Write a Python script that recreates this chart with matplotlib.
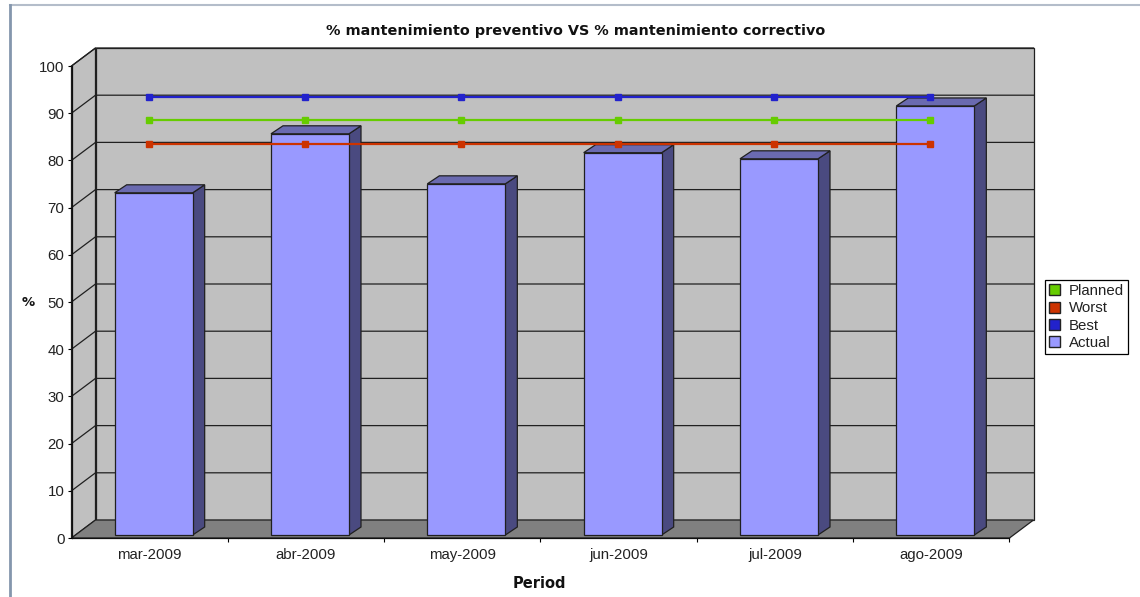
import matplotlib
matplotlib.use("Agg")
import matplotlib.pyplot as plt
from matplotlib.patches import Patch, Polygon

plt.rcParams["font.family"] = ["Liberation Sans", "DejaVu Sans"]

periods = ["mar-2009", "abr-2009", "may-2009", "jun-2009", "jul-2009", "ago-2009"]
actual = [72.5, 85.0, 74.4, 81.0, 79.7, 90.9]
planned = [85, 85, 85, 85, 85, 85]
worst = [80, 80, 80, 80, 80, 80]
best = [90, 90, 90, 90, 90, 90]
y_ticks = list(range(0, 101, 10))

WALL = "#c0c0c0"
FLOOR = "#808080"
GRID = "#202020"
BAR_FRONT = "#9999ff"
BAR_TOP = "#6a6ab0"
BAR_SIDE = "#4a4a80"
GREEN = "#66cc00"
RED = "#cc3300"
BLUE = "#2222cc"

W, H = 1140, 597
fig = plt.figure(figsize=(W / 100, H / 100), dpi=100)
ax = fig.add_axes([71.5 / W, (H - 538) / H, 938 / W, 472 / H])
ax.set_xlim(-0.5, 5.5)
ax.set_ylim(0, 100)

# pixel lengths expressed in data units, for the fake 3D depth
px = 6 / 938
py = 100 / 472
dx, dy = 24 * px, 18 * py
x0, x1 = -0.5, 5.5


def face(points, color, z, edge=GRID, lw=0.9):
    ax.add_patch(Polygon(points, closed=True, facecolor=color, edgecolor=edge,
                         linewidth=lw, clip_on=False, zorder=z))


# walls and floor
face([(x0, 0), (x0 + dx, dy), (x0 + dx, 100 + dy), (x0, 100)], WALL, 1)
face([(x0 + dx, dy), (x1 + dx, dy), (x1 + dx, 100 + dy), (x0 + dx, 100 + dy)], WALL, 1)
face([(x0, 0), (x1, 0), (x1 + dx, dy), (x0 + dx, dy)], FLOOR, 1)

# gridlines run along the side wall and across the back wall
for v in y_ticks[1:]:
    ax.plot([x0, x0 + dx, x1 + dx], [v, v + dy, v + dy], color=GRID, lw=0.9,
            clip_on=False, zorder=2)

# bars: front, top and side faces
bar_w = 78 * px
off_x, off_y = 4 * px, 3 * py
side_x, side_y = 12 * px, 8 * py
for i, v in enumerate(actual):
    left = i + off_x - bar_w / 2
    right = left + bar_w
    bottom = off_y
    top = off_y + v
    face([(right, bottom), (right + side_x, bottom + side_y),
          (right + side_x, top + side_y), (right, top)], BAR_SIDE, 3)
    face([(left, top), (right, top), (right + side_x, top + side_y),
          (left + side_x, top + side_y)], BAR_TOP, 3)
    face([(left, bottom), (right, bottom), (right, top), (left, top)], BAR_FRONT, 4)

# target lines sit slightly in front of the back wall
xs = list(range(len(periods)))
lift = 16.5 * py
for values, color in ((best, BLUE), (planned, GREEN), (worst, RED)):
    ax.plot([x - px for x in xs], [v + lift for v in values], color=color, lw=1.6,
            marker="s", markersize=4.2, clip_on=False, zorder=5)

for side in ("top", "right"):
    ax.spines[side].set_visible(False)
for side in ("left", "bottom"):
    ax.spines[side].set_linewidth(0.9)
    ax.spines[side].set_color("#101010")
    ax.spines[side].set_zorder(6)

ax.set_yticks(y_ticks)
ax.tick_params(axis="y", length=3, width=0.8, pad=2, labelsize=10.8, labelcolor="#222222")
ax.set_xticks(xs)
ax.set_xticklabels(periods)
ax.tick_params(axis="x", which="major", length=0, pad=7, labelsize=10.8, labelcolor="#222222")
ax.set_xticks([i + 0.5 for i in range(6)], minor=True)
ax.tick_params(axis="x", which="minor", length=3, width=0.8)

ax.set_xlabel("Period", family="DejaVu Sans", fontweight="bold", fontsize=10.5, color="#111111")
ax.xaxis.set_label_coords((539 - 71.5) / 938, -(584 - 538) / 472, transform=ax.transAxes)
ax.xaxis.label.set_va("center")
ax.set_ylabel("%", family="DejaVu Sans", fontweight="bold", fontsize=9.5, rotation=0, color="#111111")
ax.yaxis.set_label_coords((28 - 71.5) / 938, (538 - 302) / 472, transform=ax.transAxes)
ax.yaxis.label.set_va("center")
ax.yaxis.label.set_ha("center")
fig.text(576 / W, 1 - 31 / H, "% mantenimiento preventivo VS % mantenimiento correctivo",
         ha="center", va="center", family="DejaVu Sans", fontweight="bold", fontsize=10.4,
         color="#111111")

handles = [Patch(facecolor=GREEN, edgecolor="#222222", label="Planned"),
           Patch(facecolor=RED, edgecolor="#222222", label="Worst"),
           Patch(facecolor=BLUE, edgecolor="#222222", label="Best"),
           Patch(facecolor=BAR_FRONT, edgecolor="#222222", label="Actual")]
leg = fig.legend(handles=handles, loc="upper left", bbox_to_anchor=(1044.5 / W, 1 - 279.5 / H),
                 borderaxespad=0, fancybox=False, framealpha=1, edgecolor="black",
                 fontsize=10.8, handlelength=0.75, handleheight=0.75, handletextpad=0.55,
                 labelspacing=0.22, borderpad=0.3)
leg.get_frame().set_linewidth(0.9)
for text in leg.get_texts():
    text.set_color("#222222")

# page rules along the top and left edges
fig.add_artist(plt.Line2D([9.5 / W, 1], [1 - 5 / H, 1 - 5 / H], color="#b4bdca", lw=1.5))
fig.add_artist(plt.Line2D([9.5 / W, 9.5 / W], [0, 1 - 5 / H], color="#8496ad", lw=2))

fig.savefig("out.png", dpi=100)
